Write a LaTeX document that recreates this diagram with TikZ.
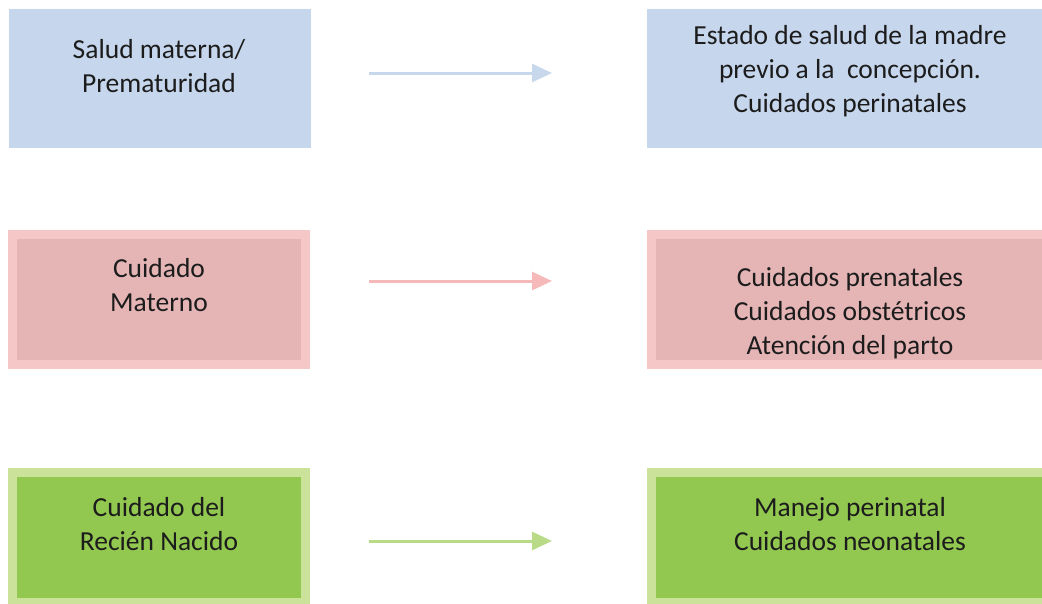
\documentclass[tikz,border=0pt]{standalone}
\usepackage{fontspec}
\setmainfont{Carlito}
\usetikzlibrary{arrows.meta}
\definecolor{blueIn}{RGB}{198,214,236}
\definecolor{pinkIn}{RGB}{229,180,181}
\definecolor{pinkOut}{RGB}{245,199,199}
\definecolor{greenIn}{RGB}{146,199,80}
\definecolor{greenOut}{RGB}{202,226,154}
\definecolor{blueArr}{RGB}{200,216,236}
\definecolor{pinkArr}{RGB}{245,185,185}
\definecolor{greenArr}{RGB}{185,218,135}
\definecolor{ink}{RGB}{28,28,28}

\begin{document}
\begin{tikzpicture}[x=1pt, y=-1pt,
    box/.style={inner sep=0pt, outer sep=0pt, line width=9pt, minimum height=130pt},
    leftbox/.style={box, minimum width=293pt},
    rightbox/.style={box, minimum width=397pt},
    txt/.style={align=center, anchor=base, inner sep=0pt, text=ink, font=\fontsize{27.5}{34}\selectfont},
    link/.style={line width=3pt, -{Triangle[length=20pt, width=18pt]}}]
    \useasboundingbox (0,0) rectangle (1042,603);
    \clip (0,0) rectangle (1042,603);
    \node (SaludBox) [leftbox, fill=blueIn, draw=blueIn] at (159.5,78.5) {};
    \node (EstadoBox) [rightbox, fill=blueIn, draw=blueIn] at (850,78.5) {};
    \node (CuidadoBox) [leftbox, fill=pinkIn, draw=pinkOut] at (159,299.5) {};
    \node (PrenatalesBox) [rightbox, fill=pinkIn, draw=pinkOut] at (850,299.5) {};
    \node (RecienBox) [leftbox, fill=greenIn, draw=greenOut] at (159,537.5) {};
    \node (ManejoBox) [rightbox, fill=greenIn, draw=greenOut] at (850,537.5) {};

    \node (Salud) [txt] at (159,92) {Salud materna/\\Prematuridad};
    \node (Estado) [txt] at (850,112) {Estado de salud de la madre\\previo a la\ \ concepción.\\Cuidados perinatales};
    \node (Cuidado) [txt] at (159,311) {Cuidado\\Materno};
    \node (Prenatales) [txt] at (850,354) {Cuidados prenatales\\Cuidados obstétricos\\Atención del parto};
    \node (Recien) [txt] at (159,550) {Cuidado del\\Recién Nacido};
    \node (Manejo) [txt] at (850,550) {Manejo perinatal\\Cuidados neonatales};

    \draw[link, blueArr] ([xshift=63pt, yshift=5.5pt]SaludBox.east) -- ([xshift=-99.5pt, yshift=5.5pt]EstadoBox.west);
    \draw[link, pinkArr] ([xshift=63pt, yshift=18.5pt]CuidadoBox.east) -- ([xshift=-99.5pt, yshift=18.5pt]PrenatalesBox.west);
    \draw[link, greenArr] ([xshift=63pt, yshift=-3.5pt]RecienBox.east) -- ([xshift=-99.5pt, yshift=-3.5pt]ManejoBox.west);
\end{tikzpicture}
\end{document}
